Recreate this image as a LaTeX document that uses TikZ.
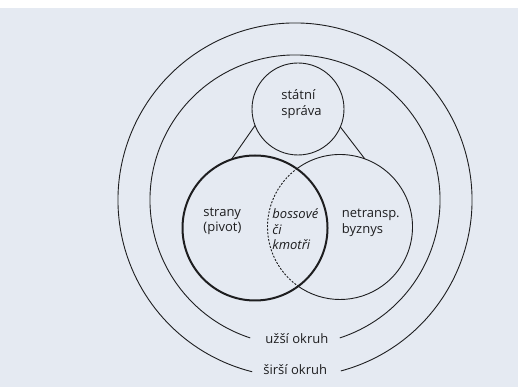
\documentclass[tikz,border=0pt]{standalone}
\usepackage{fontspec}
\setmainfont{Open Sans}
\usepackage{tikz}

\definecolor{paper}{RGB}{229,234,242}
\definecolor{ink}{RGB}{30,30,32}

\tikzset{
  ring/.style={draw=ink, line width=0.9pt},
  venn/.style={circle, minimum size=145pt, inner sep=0pt, outer sep=0pt},
  lbl/.style={align=left, inner sep=0pt, anchor=west, text=ink,
              font=\fontsize{13}{15.5}\selectfont},
}

\begin{document}
\begin{tikzpicture}[x=1pt,y=1pt,line width=0.9pt]
            \fill[paper] (0,0) rectangle (518,387);
            \fill[white] (0,379) rectangle (518,387);
            \useasboundingbox (0,0) rectangle (518,387);

            % the two rings, open at the bottom for their labels
            \coordinate (centre) at (295,187);
            \draw[ring] ([shift={(-72:145pt)}]centre) arc[start angle=-72, end angle=252, radius=145pt];
            \draw[ring] ([shift={(-75:177pt)}]centre) arc[start angle=-75, end angle=256, radius=177pt];

            \node[venn, draw=ink, minimum size=92pt] (statni) at (298,278) {};
            \node[venn] (netransp) at (340,160) {};
            \draw[ink] (netransp.126) arc[start angle=126, end angle=-126, radius=72.5pt];
            \draw[ink, dash pattern=on 2pt off 1.5pt] (netransp.126) arc[start angle=126, end angle=234, radius=72.5pt];
            \node[venn, draw=ink, line width=2pt] (strany) at (255,159) {};

            \draw[ink] (statni.201) -- (strany.109);
            \draw[ink] (statni.337) -- (netransp.70);

            \node[lbl] (tstatni) at (281,283) {státní\\správa};
            \node[lbl] (tstrany) at (203,165.5) {strany\\(pivot)};
            \node[lbl, font=\fontsize{13}{15.5}\selectfont\itshape] (tbossove) at (272,157.5) {bossové\\či\\kmotři};
            \node[lbl] (tbyznys) at (341.5,164) {netransp.\\byznys};
            \node[lbl] (tuzsi) at (265,48.5) {užší okruh};
            \node[lbl] (tsirsi) at (263,17) {širší okruh};
        \end{tikzpicture}
\end{document}
